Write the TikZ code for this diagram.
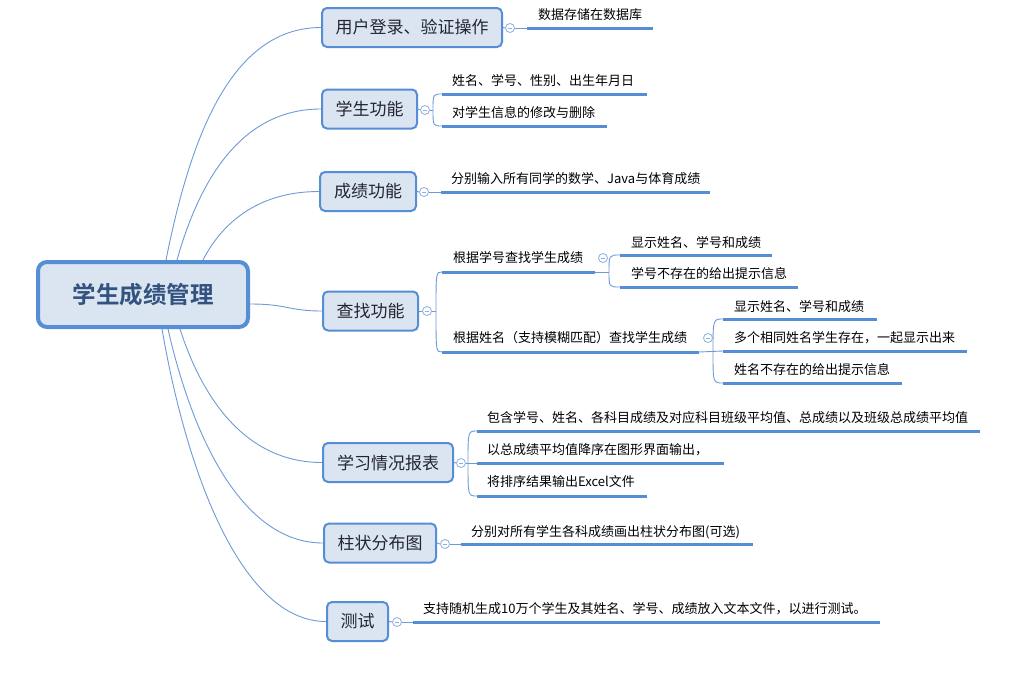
\documentclass[tikz,border=0pt]{standalone}
\usepackage{fontspec}
\newfontfamily\cjk{Noto Sans CJK SC}[BoldFont={Noto Sans CJK SC Bold}]
\definecolor{bdr}{RGB}{85,142,213}
\definecolor{fillc}{RGB}{219,229,241}
\definecolor{rootTxt}{RGB}{50,82,128}
\definecolor{topicTxt}{RGB}{35,38,48}
\definecolor{thinc}{RGB}{110,155,215}
\definecolor{circc}{RGB}{140,175,225}
\pgfdeclarelayer{bg}
\pgfsetlayers{bg,main}
\begin{document}
\begin{tikzpicture}[x=1pt,y=-1pt,
  rootbox/.style={draw=bdr, line width=4pt, fill=fillc, rounded corners=9pt, minimum width=210pt, minimum height=65pt, inner sep=0pt, font=\cjk\bfseries\fontsize{23.5}{26}\selectfont, text=rootTxt},
  topic/.style={draw=bdr, line width=2pt, fill=fillc, rounded corners=5pt, minimum height=39pt, inner sep=0pt, font=\cjk\fontsize{17}{20}\selectfont, text=topicTxt},
  leaf/.style={anchor=west, inner sep=0pt, font=\cjk\fontsize{13}{15}\selectfont, text=black},
  uline/.style={draw=bdr, line width=3pt},
  thin/.style={draw=thinc, line width=0.9pt},
  tog/.style={circle, draw=circc, line width=0.8pt, fill=white, minimum size=9pt, inner sep=0pt,
    path picture={\draw[circc, line width=0.8pt] ([xshift=-2.3pt]path picture bounding box.center) -- ([xshift=2.3pt]path picture bounding box.center);}},
]
\useasboundingbox (0,0) rectangle (1017,672);

% root and topics
\node[rootbox] (root) at (143,294.5) {学生成绩管理};
\node[topic, minimum width=180pt] (t1) at (412,27.5) {用户登录、验证操作};
\node[topic, minimum width=95pt] (t2) at (369.5,109) {学生功能};
\node[topic, minimum width=96pt] (t3) at (368,191.5) {成绩功能};
\node[topic, minimum width=95pt] (t4) at (370.5,311) {查找功能};
\node[topic, minimum width=130pt] (t5) at (388,462.5) {学习情况报表};
\node[topic, minimum width=112pt] (t6) at (380,543) {柱状分布图};
\node[topic, minimum width=61pt] (t7) at (357.5,621.5) {测试};

% collapse toggles
\node[tog] (c1) at (510,28) {};
\node[tog] (c2) at (425,110) {};
\node[tog] (c3) at (424,192) {};
\node[tog] (c4) at (427,311) {};
\node[tog] (c4a) at (603,258) {};
\node[tog] (c4b) at (708,338) {};
\node[tog] (c5) at (461,463) {};
\node[tog] (c6) at (445,544) {};
\node[tog] (c7) at (397,622) {};

% leaf texts
\node[leaf] (l1) at (538,15) {数据存储在数据库};
\node[leaf] (l2a) at (452,81) {姓名、学号、性别、出生年月日};
\node[leaf] (l2b) at (452,113) {对学生信息的修改与删除};
\node[leaf] (l3) at (451,179) {分别输入所有同学的数学、Java与体育成绩};
\node[leaf] (l4a) at (453,258) {根据学号查找学生成绩};
\node[leaf] (l4b) at (453,338) {根据姓名（支持模糊匹配）查找学生成绩};
\node[leaf] (l4a1) at (631,243) {显示姓名、学号和成绩};
\node[leaf] (l4a2) at (631,274) {学号不存在的给出提示信息};
\node[leaf] (l4b1) at (734,307) {显示姓名、学号和成绩};
\node[leaf] (l4b2) at (734,338) {多个相同姓名学生存在，一起显示出来};
\node[leaf] (l4b3) at (734,370) {姓名不存在的给出提示信息};
\node[leaf] (l5a) at (487,418) {包含学号、姓名、各科目成绩及对应科目班级平均值、总成绩以及班级总成绩平均值};
\node[leaf] (l5b) at (487,450) {以总成绩平均值降序在图形界面输出，};
\node[leaf] (l5c) at (487,482) {将排序结果输出Excel文件};
\node[leaf] (l6) at (471,532) {分别对所有学生各科成绩画出柱状分布图(可选)};
\node[leaf] (l7) at (423,609) {支持随机生成10万个学生及其姓名、学号、成绩放入文本文件，以进行测试。};

% underline coordinates
\coordinate (u1) at (527,28);   \coordinate (v1) at (653,28);
\coordinate (u2a) at (442,94);  \coordinate (v2a) at (647,94);
\coordinate (u2b) at (442,126); \coordinate (v2b) at (607,126);
\coordinate (u3) at (441,192);  \coordinate (v3) at (710,192);
\coordinate (u4a) at (442,272); \coordinate (v4a) at (595,272);
\coordinate (u4b) at (442,352); \coordinate (v4b) at (699,352);
\coordinate (u4a1) at (620,255); \coordinate (v4a1) at (772,255);
\coordinate (u4a2) at (620,287); \coordinate (v4a2) at (798,287);
\coordinate (u4b1) at (723,319); \coordinate (v4b1) at (877,319);
\coordinate (u4b2) at (723,351); \coordinate (v4b2) at (967,351);
\coordinate (u4b3) at (723,383); \coordinate (v4b3) at (902,383);
\coordinate (u5a) at (477,431); \coordinate (v5a) at (980,431);
\coordinate (u5b) at (477,463); \coordinate (v5b) at (724,463);
\coordinate (u5c) at (477,496); \coordinate (v5c) at (647,496);
\coordinate (u6) at (461,544);  \coordinate (v6) at (753,544);
\coordinate (u7) at (413,622);  \coordinate (v7) at (880,622);
% brace points
\coordinate (b2) at (433,110);
\coordinate (b4) at (436,311);
\coordinate (b4a) at (609,272);
\coordinate (b4b) at (713,352);
\coordinate (b5) at (468,463);

\begin{pgfonlayer}{bg}
\fill[white] (0,0) rectangle (1017,672);
% root curves
\draw[thin] ([xshift=23pt]root.north) .. controls (190,140) and (230,27.5) .. (t1.west);
\draw[thin] ([xshift=34pt]root.north) .. controls (199,182) and (240,109) .. (t2.west);
\draw[thin] ([xshift=60pt]root.north) .. controls (221,225) and (256,191.5) .. (t3.west);
\draw[thin] ([yshift=-9.5pt]root.east) .. controls (288,304) and (288,311) .. (t4.west);
\draw[thin] ([xshift=37pt]root.south) .. controls (202,397.5) and (245,462.5) .. (t5.west);
\draw[thin] ([xshift=25pt]root.south) .. controls (193,439) and (243,543) .. (t6.west);
\draw[thin] ([xshift=19pt]root.south) .. controls (188,480) and (244,621.5) .. (t7.west);
% topic to toggle
\draw[thin] (t1.east) -- (c1.west);
\draw[thin] (t2.east) -- (c2.west);
\draw[thin] (t3.east) -- (c3.west);
\draw[thin] (t4.east) -- (c4.west);
\draw[thin] (t5.east) -- (c5.west);
\draw[thin] (t6.east) -- (c6.west);
\draw[thin] (t7.east) -- (c7.west);
% single children
\draw[thin] (c1.east) -- (u1);
\draw[thin] (c3.east) -- (u3);
\draw[thin] (c6.east) -- (u6);
\draw[thin] (c7.east) -- (u7);
% braces
\draw[thin] (c2.east) -- (b2);
\draw[thin] (b2) .. controls (433,94) .. (u2a);
\draw[thin] (b2) .. controls (433,126) .. (u2b);
\draw[thin] (c4.east) -- (b4);
\draw[thin] (b4) .. controls (436,272) .. (u4a);
\draw[thin] (b4) .. controls (436,352) .. (u4b);
\draw[thin] (v4a) -- (b4a);
\draw[thin] (b4a) .. controls (609,255) .. (u4a1);
\draw[thin] (b4a) .. controls (609,287) .. (u4a2);
\draw[thin] (v4b) -- (u4b2);
\draw[thin] (b4b) .. controls (713,319) .. (u4b1);
\draw[thin] (b4b) .. controls (713,383) .. (u4b3);
\draw[thin] (c5.east) -- (b5);
\draw[thin] (b5) -- (u5b);
\draw[thin] (b5) .. controls (468,431) .. (u5a);
\draw[thin] (b5) .. controls (468,496) .. (u5c);
\end{pgfonlayer}

% underlines
\foreach \n in {1,2a,2b,3,4a,4b,4a1,4a2,4b1,4b2,4b3,5a,5b,5c,6,7}
  \draw[uline] (u\n) -- (v\n);
\end{tikzpicture}
\end{document}
